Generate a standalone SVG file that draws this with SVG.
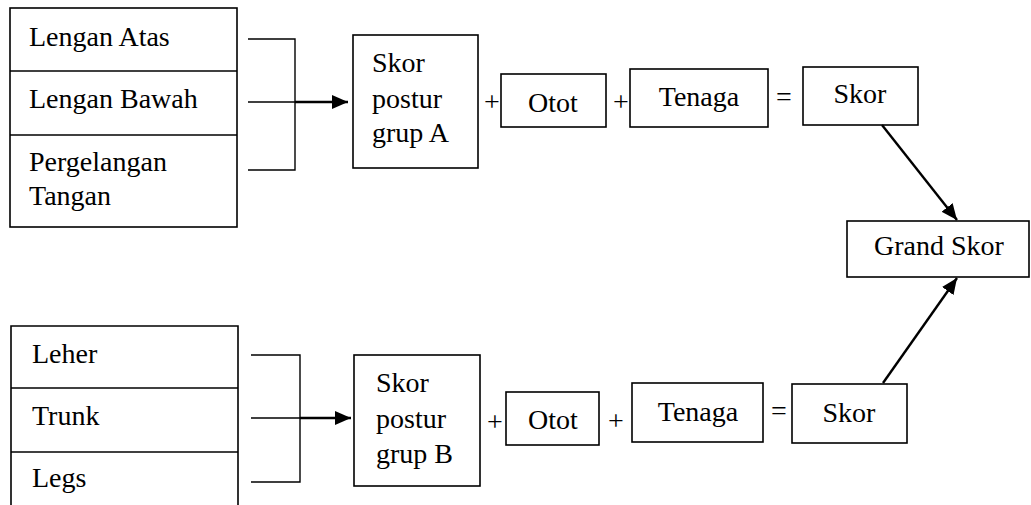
<svg xmlns="http://www.w3.org/2000/svg" width="1031" height="505" viewBox="0 0 1031 505">
<style>
.box{fill:#fff;stroke:#000;stroke-width:1.6}
.ln{fill:none;stroke:#000;stroke-width:1.4}
.thk{fill:none;stroke:#000;stroke-width:2.4}
text{font-family:"Liberation Serif","Times New Roman",serif;font-size:28px;fill:#000}
.op{font-size:28px}
.c{text-anchor:middle}
</style>
<defs>
<marker id="ah" markerUnits="userSpaceOnUse" markerWidth="18" markerHeight="16" refX="16" refY="8" orient="auto">
<path d="M0,1 L16,8 L0,15 Z" fill="#000"/>
</marker>
</defs>
<rect width="1031" height="505" fill="#fff"/>
<g id="inputs-a">
<rect class="box" x="10" y="8" width="227" height="219"/>
<line class="ln" x1="10" y1="71" x2="237" y2="71"/>
<line class="ln" x1="10" y1="135" x2="237" y2="135"/>
<text x="29" y="46">Lengan Atas</text>
<text x="29" y="108">Lengan Bawah</text>
<text x="29" y="171">Pergelangan</text>
<text x="29" y="205">Tangan</text>
</g>
<g id="inputs-b">
<path class="box" d="M11,507 L11,326 L238,326 L238,507"/>
<line class="ln" x1="11" y1="388" x2="238" y2="388"/>
<line class="ln" x1="11" y1="452" x2="238" y2="452"/>
<text x="32" y="363">Leher</text>
<text x="32" y="425">Trunk</text>
<text x="32" y="487">Legs</text>
</g>
<g id="postur-a">
<rect class="box" x="353" y="35" width="125" height="133"/>
<text x="372" y="72">Skor</text>
<text x="372" y="108">postur</text>
<text x="372" y="142">grup A</text>
</g>
<g id="postur-b">
<rect class="box" x="354" y="355" width="126" height="131"/>
<text x="376" y="392">Skor</text>
<text x="376" y="428">postur</text>
<text x="376" y="463">grup B</text>
</g>
<g id="otot-a">
<rect class="box" x="501" y="74" width="105" height="53"/>
<text class="c" x="553" y="112">Otot</text>
</g>
<g id="otot-b">
<rect class="box" x="506" y="392" width="93" height="53"/>
<text class="c" x="553" y="429">Otot</text>
</g>
<g id="tenaga-a">
<rect class="box" x="630" y="69" width="138" height="58"/>
<text class="c" x="699" y="106">Tenaga</text>
</g>
<g id="tenaga-b">
<rect class="box" x="632" y="383" width="131" height="59"/>
<text class="c" x="698" y="421">Tenaga</text>
</g>
<g id="skor-a">
<rect class="box" x="803" y="67" width="115" height="58"/>
<text class="c" x="860" y="103">Skor</text>
</g>
<g id="skor-b">
<rect class="box" x="792" y="384" width="115" height="59"/>
<text class="c" x="849" y="422">Skor</text>
</g>
<g id="grand-skor">
<rect class="box" x="847" y="221" width="182" height="56"/>
<text class="c" x="939" y="255">Grand Skor</text>
</g>
<g id="operators">
<text class="op c" x="492" y="111">+</text>
<text class="op c" x="621" y="111">+</text>
<text class="op c" x="784" y="106">=</text>
<text class="op c" x="495" y="431">+</text>
<text class="op c" x="616" y="430">+</text>
<text class="op c" x="779" y="420">=</text>
</g>
<g id="connectors">
<path class="ln" d="M248,39 H295 V170 H248"/>
<line class="ln" x1="248" y1="102" x2="295" y2="102"/>
<line class="thk" x1="295" y1="102" x2="348" y2="102" marker-end="url(#ah)"/>
<path class="ln" d="M251,355 H300 V482 H251"/>
<line class="ln" x1="251" y1="418" x2="300" y2="418"/>
<line class="thk" x1="300" y1="418" x2="351" y2="418" marker-end="url(#ah)"/>
<line class="thk" x1="882" y1="125" x2="957" y2="220" marker-end="url(#ah)"/>
<line class="thk" x1="883" y1="383" x2="957" y2="278" marker-end="url(#ah)"/>
</g>
</svg>
